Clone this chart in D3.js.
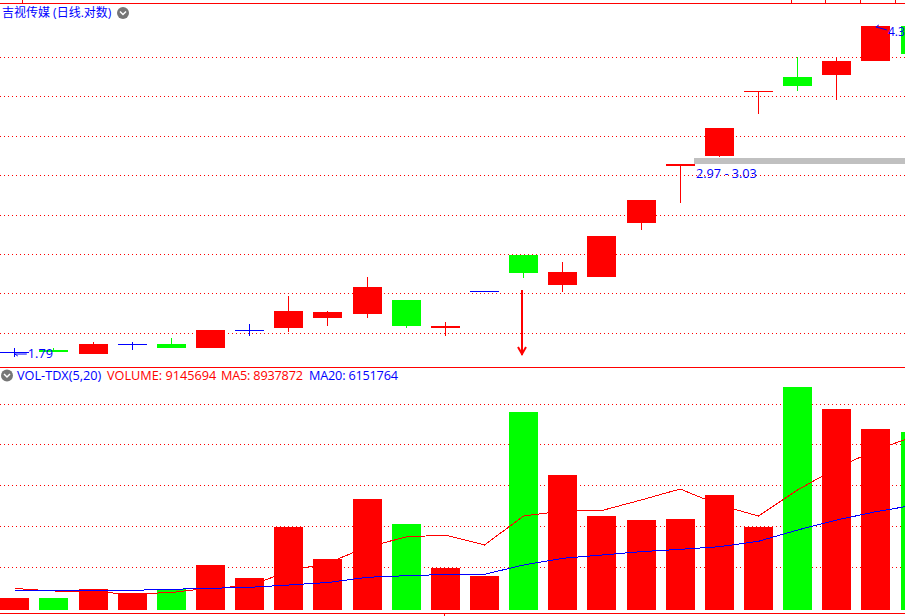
<!DOCTYPE html>
<html><head><meta charset="utf-8">
<script src="https://cdn.jsdelivr.net/npm/d3@7"></script>
<style>html,body{margin:0;padding:0;background:#fff;overflow:hidden}svg{display:block}text{font-family:"Open Sans","Noto Sans","Noto Sans CJK SC",sans-serif;font-size:12.7px}.cjk{font-family:"Open Sans","Noto Sans CJK SC",sans-serif;font-size:12px}</style>
</head><body><div id="c"></div>
<script>
const title = "吉视传媒 (日线.对数)";
const volLabelName = "VOL-TDX(5,20)";
const volLabelVolume = "VOLUME: 9145694";
const volLabelMa5 = "MA5: 8937872";
const volLabelMa20 = "MA20: 6151764";
const opens  = [1.795,1.8045,1.785,1.834,1.834,1.814,1.904,1.914,1.967,1.988,2.064,1.914,2.115,2.329,2.149,2.196,2.539,2.959,3.040,3.610,3.759,3.779,3.924,4.311];
const closes = [1.795,1.795,1.834,1.834,1.814,1.904,1.904,2.004,1.999,2.137,1.925,1.925,2.115,2.219,2.225,2.452,2.701,2.975,3.277,3.620,3.669,3.924,4.311,3.999];
const highs  = [1.814,1.814,1.844,1.844,1.864,1.904,1.935,2.086,2.004,2.196,2.064,1.946,2.115,2.329,2.286,2.452,2.701,2.975,3.277,3.620,3.966,3.966,4.311,4.311];
const lows   = [1.771,1.795,1.785,1.804,1.814,1.814,1.874,1.894,1.925,1.967,1.914,1.874,2.115,2.190,2.109,2.196,2.491,2.679,3.032,3.403,3.620,3.534,3.924,3.999];
const volumes = [616800,616800,1079400,873800,1079400,2313000,1644800,4266200,2621400,5705400,4420400,2158800,1747600,10177200,6939000,4831600,4626000,4677400,5911000,4266200,11462200,10331400,9303400,9145694];
const ma5 = [1105100,976600,925200,822400,899500,1130800,1233600,2004600,2415800,3238200,3752200,3855000,3341000,4831600,5088600,5114300,5654000,6219400,5397000,4831600,6168000,7298800,8224000,8937872];
const ma20 = [1012580,1012580,1012580,1012580,1063980,1115380,1166780,1285000,1413500,1680780,1763020,1824700,1834980,2313000,2657380,2827000,2996620,3119980,3253620,3531180,4112000,4626000,5052620,5397000];
const priceGrid = [3.966,3.569,3.205,2.886,2.597,2.334,2.102,1.887];
const volGrid = [2210200,4317600,6425000,8532400,10588400];
const topTicks = [0.184,19.83,20.70,21.59,22.49];
const zone = {from:17, low:2.975, high:3.023, label:"2.97 - 3.03"};
const signal = {bar:13, start:2.120, end:1.780};
const lowMark = {bar:0, price:1.79, label:"1.79"};
const highMark = {bar:22, price:4.30, label:"4.3"};

const W=905,H=616;
const RED="#ff0000",GREEN="#00ff00",BLUE="#0000ff";
const svg=d3.select("#c").append("svg").attr("width",W).attr("height",H);
const x=d3.scaleLinear().domain([0,23]).range([14.8,915.02]);
const y=d3.scaleLog().domain([1.724,4.586]).range([367,3]);
const v=d3.scaleLinear().domain([0,12490200]).range([610,367]);
const left=i=>Math.round(x(i)-14.5);
const idx=d3.range(opens.length);
const color=i=>closes[i]>opens[i]?RED:closes[i]<opens[i]?GREEN:BLUE;
const volColor=i=>closes[i]<opens[i]?GREEN:RED;
const crisp=svg.append("g").attr("shape-rendering","crispEdges");

// grids
const dots="1,3";
crisp.selectAll(".pg").data(priceGrid).join("line").attr("x1",0).attr("x2",W)
 .attr("y1",d=>Math.round(y(d))+.5).attr("y2",d=>Math.round(y(d))+.5).attr("stroke",RED).attr("stroke-dasharray",dots);
crisp.selectAll(".vg").data(volGrid).join("line").attr("x1",0).attr("x2",W)
 .attr("y1",d=>Math.round(v(d))+.5).attr("y2",d=>Math.round(v(d))+.5).attr("stroke",RED).attr("stroke-dasharray",dots);

// frame lines
[3,367,613].forEach(py=>crisp.append("rect").attr("x",0).attr("y",py).attr("width",W).attr("height",1).attr("fill",RED));
crisp.selectAll(".tt").data(topTicks).join("rect").attr("x",d=>Math.round(x(d))).attr("y",0).attr("width",1).attr("height",3).attr("fill",RED);
crisp.append("rect").attr("x",left(11)+13).attr("y",613).attr("width",1).attr("height",3).attr("fill",RED);

// zone
crisp.append("rect").attr("x",left(zone.from)+28).attr("y",Math.round(y(zone.high))).attr("width",W)
 .attr("height",Math.round(y(zone.low))-Math.round(y(zone.high))).attr("fill","#c0c0c0");

// candles
crisp.selectAll(".wick").data(idx).join("rect").attr("x",i=>left(i)+14).attr("width",1)
 .attr("y",i=>Math.round(y(highs[i]))).attr("height",i=>Math.max(0,Math.round(y(lows[i]))-Math.round(y(highs[i]))))
 .attr("fill",color);
crisp.selectAll(".body").data(idx).join("rect").attr("x",left).attr("width",29)
 .attr("y",i=>Math.round(y(Math.max(opens[i],closes[i]))))
 .attr("height",i=>Math.max(1,Math.round(y(Math.min(opens[i],closes[i])))-Math.round(y(Math.max(opens[i],closes[i])))))
 .attr("fill",color);

// volume
crisp.selectAll(".vol").data(idx).join("rect").attr("x",left).attr("width",29)
 .attr("y",i=>Math.round(v(volumes[i]))).attr("height",i=>610-Math.round(v(volumes[i])))
 .attr("fill",volColor);
const line=d3.line().x((d,i)=>x(i)).y(d=>v(d));
svg.append("path").attr("d",line(ma5)).attr("fill","none").attr("stroke",RED).attr("stroke-width",1).attr("shape-rendering","crispEdges");
svg.append("path").attr("d",line(ma20)).attr("fill","none").attr("stroke",BLUE).attr("stroke-width",1).attr("shape-rendering","crispEdges");

// signal arrow
const ax=left(signal.bar)+13;
crisp.append("rect").attr("x",ax-1).attr("y",y(signal.start)).attr("width",2).attr("height",y(signal.end)-y(signal.start)).attr("fill",RED);
svg.append("path").attr("d",`M${ax-4},${y(signal.end)-8}L${ax},${y(signal.end)-1}L${ax+4},${y(signal.end)-8}`).attr("fill","none").attr("stroke",RED).attr("stroke-width",2);

// marks
const m1=x(lowMark.bar), my1=y(lowMark.price);
svg.append("path").attr("d",`M${m1+12},${my1+1}H${m1}M${m1+3},${my1+3}L${m1},${my1+1}`).attr("stroke",BLUE).attr("fill","none");
svg.append("text").attr("x",m1+13).attr("y",my1+5).attr("fill",BLUE).text(lowMark.label);
const m2=x(highMark.bar), my2=y(highMark.price);
svg.append("path").attr("d",`M${m2+11},${my2+3}L${m2},${my2}M${m2},${my2}L${m2+3},${my2-2}`).attr("stroke",BLUE).attr("fill","none");
svg.append("text").attr("x",m2+12).attr("y",my2+9).attr("fill",BLUE).style("font-size","12px").text(highMark.label);
svg.append("text").attr("x",left(zone.from)+30).attr("y",y(zone.low)+14).attr("fill",BLUE).text(zone.label);

// labels
svg.append("text").attr("class","cjk").attr("x",2).attr("y",17).attr("fill",BLUE).text(title);
function chevron(cx,cy){
 svg.append("circle").attr("cx",cx).attr("cy",cy).attr("r",6).attr("fill","#767676");
 svg.append("path").attr("d",`M${cx-3},${cy-1.5}L${cx},${cy+1.5}L${cx+3},${cy-1.5}`).attr("fill","none").attr("stroke","#fff").attr("stroke-width",1.5);
}
chevron(123,13); chevron(7,375.5);
svg.append("text").attr("x",17).attr("y",380).attr("fill",BLUE).text(volLabelName);
svg.append("text").attr("x",107).attr("y",380).attr("fill",RED).text(volLabelVolume);
svg.append("text").attr("x",221).attr("y",380).attr("fill",RED).attr("textLength",82).text(volLabelMa5);
svg.append("text").attr("x",309).attr("y",380).attr("fill",BLUE).attr("textLength",89).text(volLabelMa20);
</script></body></html>
